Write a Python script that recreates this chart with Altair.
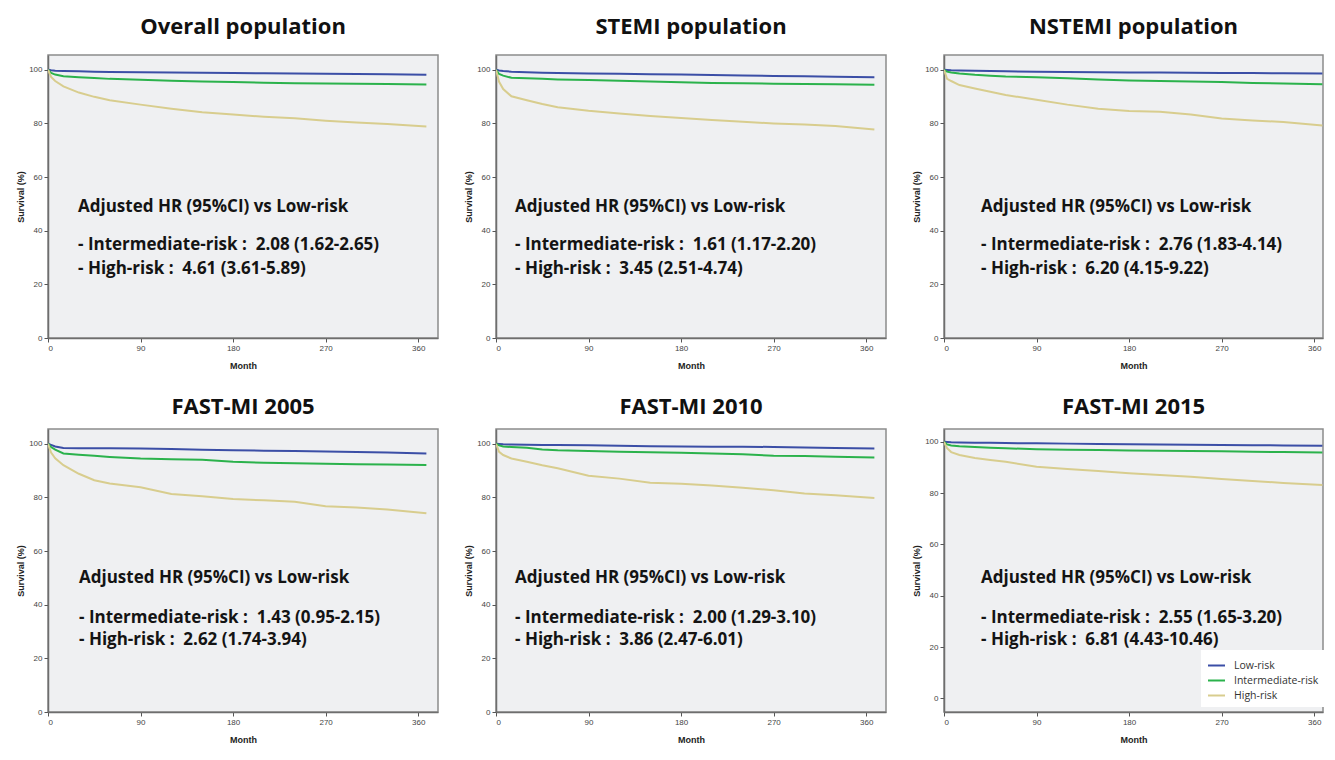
import altair as alt
import pandas as pd

MONTHS = [0, 3, 7, 15, 30, 45, 60, 90, 120, 150, 180, 210, 240, 270, 300, 330, 368]
PANEL_TITLES = ["Overall population", "STEMI population", "NSTEMI population",
                "FAST-MI 2005", "FAST-MI 2010", "FAST-MI 2015"]
SERIES = ["Low-risk", "Intermediate-risk", "High-risk"]

LOW_RISK = [
    [100, 99.8, 99.6, 99.5, 99.4, 99.3, 99.2, 99.1, 99.0, 98.9, 98.8, 98.7, 98.6, 98.5, 98.4, 98.3, 98.1],
    [100, 99.7, 99.5, 99.3, 99.1, 98.9, 98.8, 98.6, 98.5, 98.3, 98.2, 98.0, 97.9, 97.7, 97.6, 97.4, 97.2],
    [100, 99.9, 99.8, 99.7, 99.6, 99.5, 99.4, 99.3, 99.2, 99.1, 99.0, 98.95, 98.9, 98.8, 98.75, 98.7, 98.6],
    [100, 99.6, 99.0, 98.4, 98.3, 98.3, 98.3, 98.2, 98.0, 97.8, 97.6, 97.4, 97.3, 97.1, 96.9, 96.7, 96.4],
    [100, 99.9, 99.8, 99.7, 99.6, 99.5, 99.5, 99.4, 99.3, 99.1, 99.0, 98.9, 98.9, 98.8, 98.6, 98.4, 98.2],
    [100, 99.9, 99.8, 99.7, 99.6, 99.6, 99.5, 99.4, 99.3, 99.2, 99.1, 99.0, 98.9, 98.8, 98.7, 98.6, 98.5],
]
INTERMEDIATE_RISK = [
    [100, 98.8, 98.2, 97.6, 97.2, 96.9, 96.6, 96.3, 95.9, 95.6, 95.4, 95.2, 95.0, 94.9, 94.8, 94.7, 94.5],
    [100, 98.4, 97.8, 97.0, 96.8, 96.6, 96.4, 96.2, 95.9, 95.6, 95.3, 95.1, 95.0, 94.8, 94.7, 94.6, 94.4],
    [100, 99.3, 99.0, 98.6, 98.1, 97.8, 97.5, 97.2, 96.8, 96.4, 96.0, 95.8, 95.6, 95.4, 95.1, 94.9, 94.6],
    [100, 98.8, 97.8, 96.4, 95.9, 95.5, 95.1, 94.5, 94.2, 94.0, 93.3, 92.9, 92.7, 92.5, 92.4, 92.3, 92.1],
    [100, 99.4, 99.0, 98.8, 98.5, 97.9, 97.6, 97.3, 97.0, 96.8, 96.6, 96.4, 96.1, 95.5, 95.4, 95.2, 94.9],
    [100, 99.0, 98.6, 98.3, 98.0, 97.7, 97.5, 97.1, 96.9, 96.8, 96.6, 96.5, 96.4, 96.3, 96.1, 96.0, 95.8],
]
HIGH_RISK = [
    [100, 97.3, 95.8, 93.8, 91.5, 89.9, 88.6, 87.0, 85.5, 84.2, 83.3, 82.5, 81.9, 81.0, 80.3, 79.8, 78.8],
    [100, 95.5, 92.8, 90.1, 88.6, 87.2, 86.0, 84.7, 83.7, 82.8, 82.0, 81.3, 80.6, 80.0, 79.6, 79.0, 77.7],
    [100, 96.6, 95.8, 94.3, 93.0, 91.8, 90.6, 88.8, 87.0, 85.5, 84.6, 84.3, 83.3, 81.8, 81.1, 80.5, 79.2],
    [100, 96.7, 94.6, 92.0, 88.8, 86.4, 85.2, 83.8, 81.3, 80.4, 79.4, 78.9, 78.4, 76.7, 76.2, 75.5, 74.1],
    [100, 97.0, 95.8, 94.5, 93.3, 92.0, 90.9, 88.1, 87.0, 85.5, 85.1, 84.4, 83.6, 82.7, 81.5, 80.8, 79.8],
    [100, 97.5, 96.0, 94.9, 93.7, 92.9, 92.2, 90.3, 89.4, 88.6, 87.8, 87.1, 86.4, 85.5, 84.7, 84.0, 83.2],
]
HR_INTERMEDIATE = ["2.08 (1.62-2.65)", "1.61 (1.17-2.20)", "2.76 (1.83-4.14)",
                   "1.43 (0.95-2.15)", "2.00 (1.29-3.10)", "2.55 (1.65-3.20)"]
HR_HIGH = ["4.61 (3.61-5.89)", "3.45 (2.51-4.74)", "6.20 (4.15-9.22)",
           "2.62 (1.74-3.94)", "3.86 (2.47-6.01)", "6.81 (4.43-10.46)"]
Y_TICKS = [0, 20, 40, 60, 80, 100]
X_TICKS = [0, 90, 180, 270, 360]

COLORS = ["#3b4ea6", "#2bb24c", "#d8cd8e"]
W = 390
W_LAST = 379
PX_PER_MONTH = W / 379.3
H = 283
TEXT_X = [30, 19, 37, 31, 19, 37]
FONT = "Open Sans"


def make_panel(i):
    rows = []
    for name, arr in zip(SERIES, [LOW_RISK[i], INTERMEDIATE_RISK[i], HIGH_RISK[i]]):
        for m, v in zip(MONTHS, arr):
            rows.append({"month": m, "survival": v, "series": name})
    df = pd.DataFrame(rows)
    width = W_LAST if i in (2, 5) else W
    ydom = [-5.3, 105] if i == 5 else [0, 105.5]
    if i == 5:
        legend = alt.Legend(orient="none", legendX=257, legendY=221, title=None,
                            fillColor="white", padding=6, symbolType="stroke",
                            symbolStrokeWidth=2, symbolSize=289, labelFont=FONT,
                            labelFontSize=10.5, labelColor="#333", labelOffset=8,
                            rowPadding=0, direction="vertical")
    else:
        legend = None
    lines = alt.Chart(df).mark_line(strokeWidth=2, clip=True).encode(
        x=alt.X("month:Q",
                scale=alt.Scale(domain=[0, width / PX_PER_MONTH], nice=False, zero=False),
                axis=alt.Axis(values=X_TICKS, title="Month", grid=False)),
        y=alt.Y("survival:Q", scale=alt.Scale(domain=ydom, nice=False, zero=False),
                axis=alt.Axis(values=Y_TICKS, title="Survival (%)", grid=False)),
        color=alt.Color("series:N", scale=alt.Scale(domain=SERIES, range=COLORS),
                        legend=legend),
    )
    row2 = i >= 3
    ys = [154, 194, 216] if row2 else [157, 195, 219]
    texts = ["Adjusted HR (95%CI) vs Low-risk",
             "- Intermediate-risk :\u00a0 " + HR_INTERMEDIATE[i],
             "- High-risk :\u00a0 " + HR_HIGH[i]]
    layers = [lines]
    for t, yy in zip(texts, ys):
        layers.append(
            alt.Chart(pd.DataFrame({"t": [t]})).mark_text(
                align="left", baseline="alphabetic", font=FONT, fontWeight="bold",
                fontSize=17, color="#141414"
            ).encode(text="t:N", x=alt.value(TEXT_X[i]), y=alt.value(yy))
        )
    return alt.layer(*layers).properties(
        width=width, height=H,
        title=alt.Title(PANEL_TITLES[i], font=FONT, fontSize=22, fontWeight="bold",
                        color="#111", anchor="middle", offset=10 if row2 else 16),
    )


panels = [make_panel(i) for i in range(6)]
row1 = alt.hconcat(*panels[:3], spacing=24).resolve_scale(color="independent").resolve_legend(color="independent")
row2 = alt.hconcat(*panels[3:], spacing=24).resolve_scale(color="independent").resolve_legend(color="independent")

chart = alt.vconcat(row1, row2, spacing=24).resolve_scale(
    color="independent").resolve_legend(color="independent").properties(
    padding={"left": 7, "top": 7, "right": 0, "bottom": 0}
).configure_view(
    fill="#eff0f2", stroke="#8c8c8c", strokeWidth=1.5
).configure_axis(
    domainColor="#6e6e6e", domainWidth=1.5, tickColor="#555", tickSize=4,
    labelFont="Liberation Sans", labelFontSize=8, labelColor="#444", labelPadding=2,
    titleFont="Liberation Sans", titleFontSize=9, titleFontWeight="bold",
    titleColor="#222"
).configure_axisX(titlePadding=9).configure_axisY(titlePadding=3)

chart.save("out.html", embed_options={"renderer": "svg", "actions": False})
